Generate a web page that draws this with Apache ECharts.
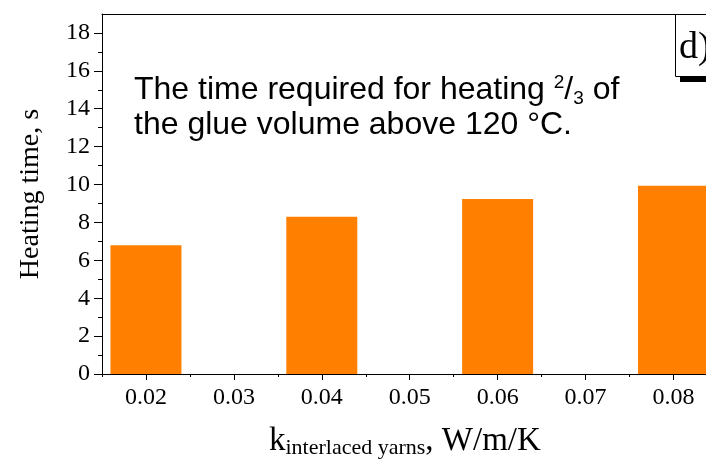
<!DOCTYPE html>
<html>
<head>
<meta charset="utf-8">
<script src="https://cdn.jsdelivr.net/npm/echarts@6/dist/echarts.min.js"></script>
<style>html,body{margin:0;padding:0;background:#fff;}#c{width:706px;height:467px;}</style>
</head>
<body>
<div id="c"></div>
<script>
const kValues = [0.02, 0.04, 0.06, 0.08];
const heatingTime = [6.8, 8.3, 9.23, 9.93];
const xTickLabels = [0.02, 0.03, 0.04, 0.05, 0.06, 0.07, 0.08];
const xMinorTicks = [0.015, 0.025, 0.035, 0.045, 0.055, 0.065, 0.075];
const yTickLabels = [0, 2, 4, 6, 8, 10, 12, 14, 16, 18];
const yMinorTicks = [1, 3, 5, 7, 9, 11, 13, 15, 17];

const chart = echarts.init(document.getElementById('c'));
const serif = 'Liberation Serif';
const sans = 'Liberation Sans';
const line = {show: true, lineStyle: {color: '#000', width: 1}};
const X_MIN = 0.015, X_MAX = 0.0837, Y_MAX = 19;

chart.setOption({
  animation: false,
  backgroundColor: '#fff',
  grid: {left: 102, right: 0, top: 14, bottom: 93, containLabel: false},
  xAxis: [
    {type: 'value', min: X_MIN, max: X_MAX, position: 'bottom',
     axisLine: line,
     axisTick: {show: true, inside: false, length: 6, customValues: xTickLabels, lineStyle: {color: '#000'}},
     axisLabel: {show: true, customValues: xTickLabels, formatter: v => v.toFixed(2), fontFamily: serif, fontSize: 24, color: '#000', margin: 12},
     splitLine: {show: false}},
    {type: 'value', min: X_MIN, max: X_MAX, position: 'bottom',
     axisLine: {show: false},
     axisTick: {show: true, inside: false, length: 3, customValues: xMinorTicks, lineStyle: {color: '#000'}},
     axisLabel: {show: false}, splitLine: {show: false}},
    {type: 'value', min: X_MIN, max: X_MAX, position: 'top',
     axisLine: line, axisTick: {show: false}, axisLabel: {show: false}, splitLine: {show: false}}
  ],
  yAxis: [
    {type: 'value', min: 0, max: Y_MAX, position: 'left',
     axisLine: line,
     axisTick: {show: true, inside: false, length: 8, customValues: yTickLabels, lineStyle: {color: '#000'}},
     axisLabel: {show: true, customValues: yTickLabels, fontFamily: serif, fontSize: 24, color: '#000', margin: 12},
     splitLine: {show: false},
     name: 'Heating time, s', nameLocation: 'middle', nameGap: 57, nameRotate: 90,
     nameTextStyle: {fontFamily: serif, fontSize: 28, color: '#000'}},
    {type: 'value', min: 0, max: Y_MAX, position: 'left',
     axisLine: {show: false},
     axisTick: {show: true, inside: false, length: 4, customValues: yMinorTicks, lineStyle: {color: '#000'}},
     axisLabel: {show: false}, splitLine: {show: false}}
  ],
  series: [{
    type: 'bar',
    xAxisIndex: 0, yAxisIndex: 0,
    barWidth: 71,
    itemStyle: {color: '#FF8000'},
    data: kValues.map((k, i) => [k, heatingTime[i]])
  }],
  graphic: [
    {type: 'text', left: 134, top: 73, z: 100,
     style: {
       text: '{n|The time required for heating }{sup|2}{n|/}{sub|3}{n| of}\n{n|the glue volume above 120 °C.}',
       fill: '#000',
       rich: {
         n: {fontFamily: sans, fontSize: 32, lineHeight: 35, fill: '#000'},
         sup: {fontFamily: sans, fontSize: 19, lineHeight: 21, verticalAlign: 'top', fill: '#000'},
         sub: {fontFamily: sans, fontSize: 19, lineHeight: 17, verticalAlign: 'bottom', fill: '#000'}
       }
     }},
    {type: 'rect', shape: {x: 675.5, y: 14.5, width: 40, height: 62}, z: 100,
     style: {fill: '#fff', stroke: '#000', lineWidth: 1}},
    {type: 'rect', shape: {x: 680, y: 77, width: 30, height: 5}, z: 99,
     style: {fill: '#000'}},
    {type: 'text', left: 679, top: 29, z: 101,
     style: {text: 'd)', fontFamily: serif, fontSize: 38, fill: '#000'}},
    {type: 'text', left: 269, top: 425, z: 100,
     style: {
       text: '{n|k}{s|interlaced yarns}{n|, W/m/K}',
       rich: {
         n: {fontFamily: serif, fontSize: 33, lineHeight: 36, fill: '#000'},
         s: {fontFamily: serif, fontSize: 22, lineHeight: 10, verticalAlign: 'bottom', fill: '#000'}
       }
     }}
  ]
});
</script>
</body>
</html>
